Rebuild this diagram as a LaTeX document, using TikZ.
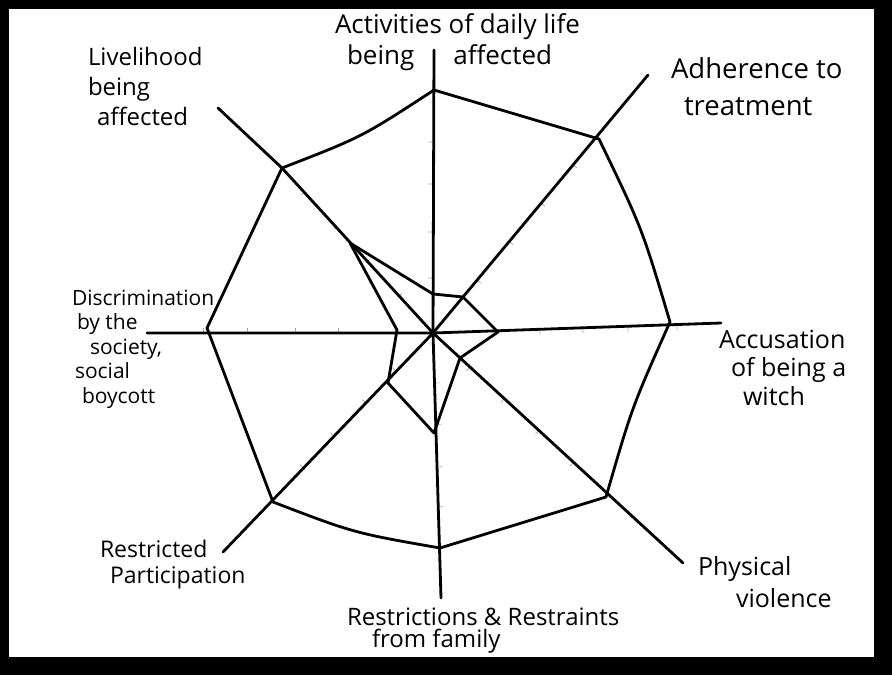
\documentclass[tikz,border=0pt]{standalone}
\usepackage{fontspec}
\setmainfont{Open Sans}
\usetikzlibrary{calc}
\begin{document}
\begin{tikzpicture}[x=1pt,y=-1pt,
  chart/.style={line width=2.8pt, line join=round, line cap=round, black},
  axisline/.style={line width=2.8pt, line cap=round, black},
  tickmark/.style={line width=0.7pt, gray!70},
  lbl/.style={inner sep=0pt, outer sep=0pt, align=left, anchor=base west, text=black}]
\fill[black] (0,0) rectangle (892,675);
\fill[white] (9,9) rectangle (874,657);
\useasboundingbox (0,0) rectangle (892,675);

% centre and axis ends
\coordinate (O) at (433,333);
\coordinate (Nend) at (434,50);
\coordinate (Send) at (441,598);
\coordinate (Eend) at (721,323);
\coordinate (Wend) at (147,333);
\coordinate (NEend) at (648,75);
\coordinate (NWend) at (218,108);
\coordinate (SWend) at (223,552);
\coordinate (SEend) at (683,563);

% outer polygon
\coordinate (No) at (434,90);
\coordinate (NEo) at (599,139);
\coordinate (Eo) at (670,322);
\coordinate (SEo) at (606,497);
\coordinate (So) at (440,548);
\coordinate (SWo) at (273,502);
\coordinate (Wo) at (207,328);
\coordinate (NWo) at (282,168);

% inner polygon
\coordinate (Ni) at (433,294);
\coordinate (NEi) at (463,297);
\coordinate (Ei) at (498,332);
\coordinate (SEi) at (460,358);
\coordinate (Si) at (434,433);
\coordinate (SWi) at (388,383);
\coordinate (Wi) at (397,330);
\coordinate (NWi) at (350,243);

% ticks
\foreach \e/\s/\ds in {Nend/-90/{55,101,149,191}, Send/-90/{50,92,134,174},
    Eend/90/{107,150,195,244}, Wend/90/{95,138,186,230},
    NEend/90/{69,119,169,219}, NWend/90/{50,97,144,191},
    SWend/90/{53,97,143,187}, SEend/90/{50,97,144,191}}{
  \foreach \d in \ds {
    \draw[tickmark] ($(O)!\d pt!(\e)$) -- ($(O)!\d pt!(\e)!5pt!\s:(O)$);
  }
}

% axes
\draw[axisline] (Nend) -- (O) -- (Send);
\draw[axisline] (Wend) -- (O) -- (Eend);
\draw[axisline] (NWend) -- (NWo) -- (O);
\draw[axisline] (O) -- (NEend);
\draw[axisline] (O) -- (SWend);
\draw[axisline] (O) -- (SEend);

% outer polygon
\draw[chart] (No) -- (NEo) .. controls (642,228) .. (Eo)
  .. controls (632,407) .. (SEo) -- (So) .. controls (354,533) .. (SWo)
  -- (Wo) -- (NWo) .. controls (362,137) .. (No);

% inner polygon
\draw[chart] (Ni) -- (NEi) -- (Ei) -- (SEi) -- (Si) -- (SWi) -- (Wi) -- (NWi) -- cycle;

% labels (anchored at the baseline of their last line)
\node[lbl, font=\fontsize{26}{31}\selectfont] (Lact) at (335,64)
  {Activities of daily life\\\hspace*{12pt}being\hspace{39pt}affected};
\node[lbl, font=\fontsize{24}{30}\selectfont] (Lliv) at (88,125)
  {Livelihood\\being\\\hspace*{9pt}affected};
\node[lbl, font=\fontsize{27.5}{37}\selectfont] (Ladh) at (671,115)
  {Adherence to\\\hspace*{13pt}treatment};
\node[lbl, font=\fontsize{25}{28.5}\selectfont] (Lacc) at (719,405)
  {Accusation\\\hspace*{12pt}of being a\\\hspace*{24pt}witch};
\node[lbl, font=\fontsize{25}{32}\selectfont] (Lphy) at (698,607)
  {Physical\\\hspace*{38pt}violence};
\node[lbl, font=\fontsize{24}{22}\selectfont] (Lres) at (347,647)
  {Restrictions \& Restraints\\\hspace*{25pt}from family};
\node[lbl, font=\fontsize{23}{26}\selectfont] (Lpar) at (100,583)
  {Restricted\\\hspace*{10pt}Participation};
\node[lbl, font=\fontsize{21}{24.5}\selectfont] (Ldis) at (72,403)
  {Discrimination\\\hspace*{5pt}by the\\\hspace*{18pt}society,\\\hspace*{3pt}social\\\hspace*{10pt}boycott};
\end{tikzpicture}
\end{document}
